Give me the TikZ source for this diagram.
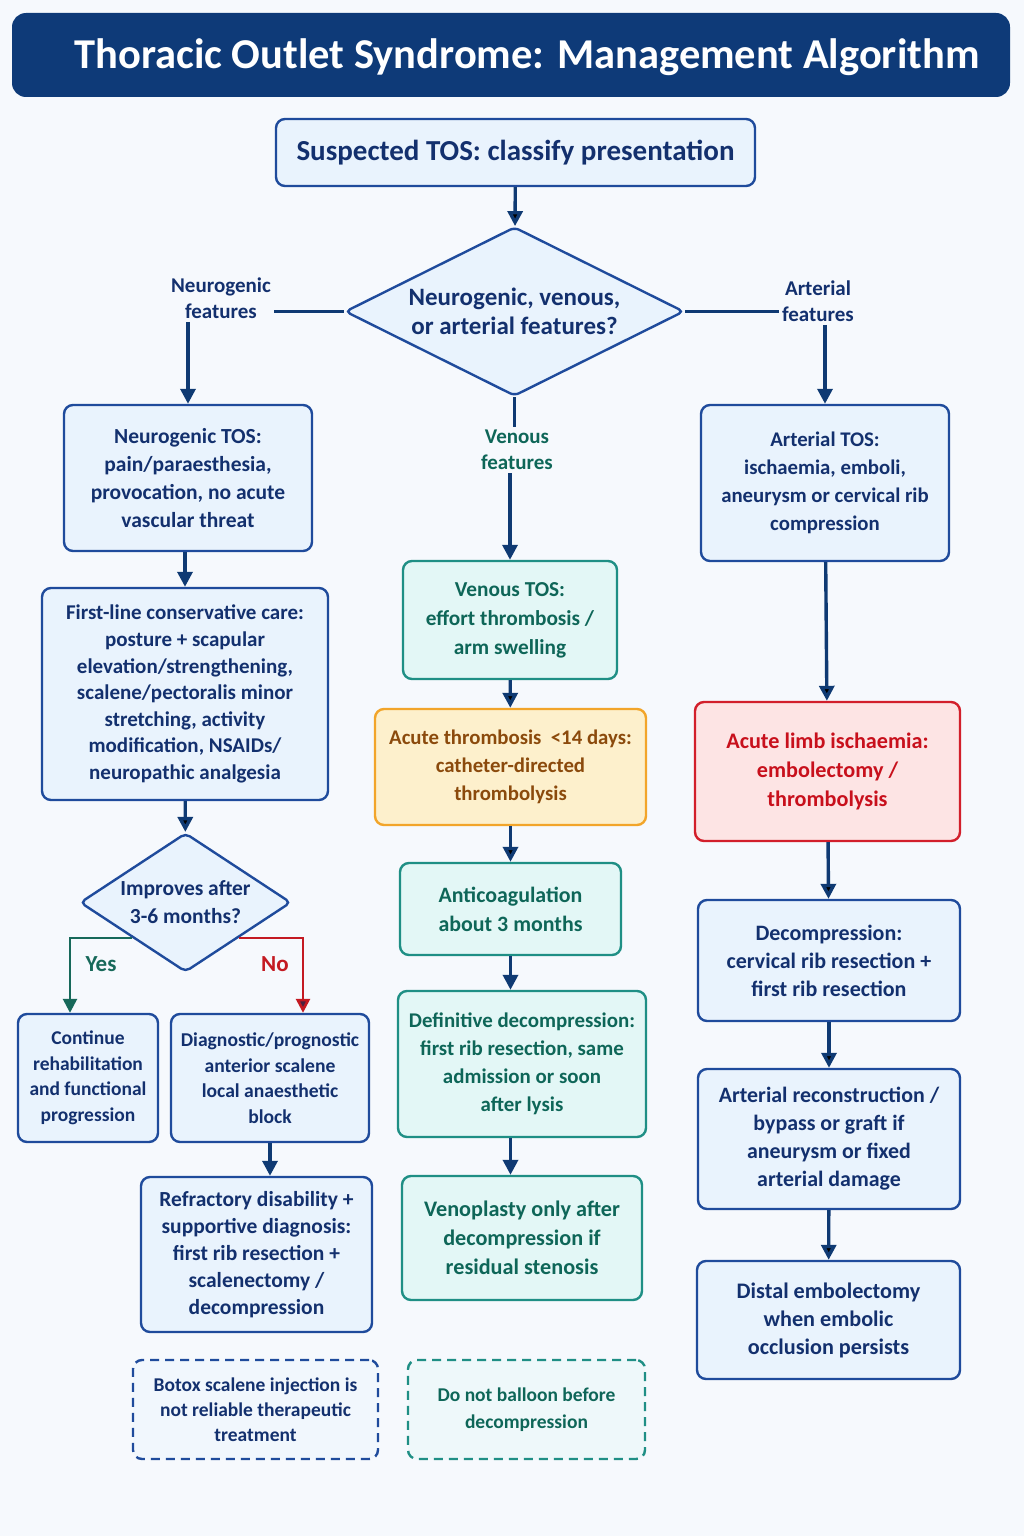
\documentclass[tikz,border=0pt]{standalone}
\usepackage{fontspec}
\setmainfont{Carlito}
\usetikzlibrary{positioning,arrows.meta,shapes.geometric}

\definecolor{bgcol}{HTML}{F6F9FD}
\definecolor{titlecol}{HTML}{0E3A78}
\definecolor{navyline}{HTML}{1F4B9C}
\definecolor{navytext}{HTML}{13306E}
\definecolor{boxblue}{HTML}{E9F3FD}
\definecolor{tealline}{HTML}{1F8F85}
\definecolor{tealfill}{HTML}{E3F7F6}
\definecolor{tealtext}{HTML}{0E6658}
\definecolor{orangeline}{HTML}{F2A52A}
\definecolor{orangefill}{HTML}{FDF0CC}
\definecolor{orangetext}{HTML}{8B4A0C}
\definecolor{redline}{HTML}{D21F2B}
\definecolor{redfill}{HTML}{FDE4E4}
\definecolor{redtext}{HTML}{C8101C}
\definecolor{arrowcol}{HTML}{0F3A73}
\definecolor{yescol}{HTML}{17695A}
\definecolor{nocol}{HTML}{C41A22}
\definecolor{notip}{HTML}{4B2340}

\newcommand\fs[2]{\fontsize{#1}{#2}\selectfont\bfseries}

\tikzset{
    >={Triangle[length=15pt,width=15pt]}, % bold arrow heads
    wh/.style 2 args={minimum width=#1pt, minimum height=#2pt}, % box size in px
    box/.style={draw=navyline, fill=boxblue, text=navytext, line width=2.4pt,
        rounded corners=9pt, align=center, inner sep=0pt, font=\fs{21.5}{28}},
    venbox/.style={box, draw=tealline, fill=tealfill, text=tealtext},
    lysisbox/.style={box, draw=orangeline, fill=orangefill, text=orangetext},
    alarmbox/.style={box, draw=redline, fill=redfill, text=redtext},
    notebox/.style={box, dashed, dash pattern=on 9pt off 6pt, fill=bgcol!60!boxblue, font=\fs{19.5}{25}},
    choice/.style={diamond, draw=navyline, fill=boxblue, text=navytext, line width=2.4pt,
        rounded corners=5pt, align=center, inner sep=-8pt, aspect=2},
    lbl/.style={align=center, text=navytext, font=\fs{21}{26}},
    conn/.style={draw=arrowcol, line width=3.4pt},
}

\begin{document}
\begin{tikzpicture}[x=1pt,y=-1pt]
  \useasboundingbox (0,0) rectangle (1024,1536);
  \fill[bgcol] (0,0) rectangle (1024,1536);

  % title bar
  \node[fill=titlecol, rounded corners=14pt, wh={998}{84}] (t_0) at (511,55) {};
  \node[text=white, font=\fs{42.5}{48}] (t_1) at (527,57) {Thoracic Outlet Syndrome: Management Algorithm};

  % entry and first split
  \node[box, wh={479}{67}, font=\fs{29}{32}] (s_0) at (515.5,152.5) {Suspected TOS: classify presentation};
  \node[choice, wh={339}{169}, font=\fs{25}{29}] (d_0) at (514.5,311.5) {Neurogenic, venous,\\or arterial features?};
  \node[lbl] (lN) at (221,298) {Neurogenic\\features};
  \node[lbl] (lA) at (818,301) {Arterial\\features};
  \node[lbl, text=tealtext] (lV) at (517,450) {Venous\\features};

  % neurogenic column
  \node[box, wh={248}{146}] (n_1) at (188,478) {Neurogenic TOS:\\pain/paraesthesia,\\provocation, no acute\\vascular threat};
  \node[box, wh={286}{212}, font=\fs{21}{26.6}] (n_2) at (185,694) {First-line conservative care:\\posture + scapular\\elevation/strengthening,\\scalene/pectoralis minor\\stretching, activity\\modification, NSAIDs/\\neuropathic analgesia};
  \node[choice, wh={211}{139}, font=\fs{21.5}{28}] (d_1) at (185.5,902.5) {Improves after\\3-6 months?};
  \node[box, wh={140}{128}, font=\fs{19.5}{25.5}] (n_3) at (88,1078) {Continue\\rehabilitation\\and functional\\progression};
  \node[box, wh={198}{128}, font=\fs{19.6}{25.5}] (n_4) at (270,1078) {Diagnostic/prognostic\\anterior scalene\\local anaesthetic\\block};
  \node[box, wh={231}{155}, font=\fs{21.5}{27}] (n_5) at (256.5,1254.5) {Refractory disability +\\supportive diagnosis:\\first rib resection +\\scalenectomy /\\decompression};
  \node[notebox, wh={245}{99}] (n_6) at (255.5,1409.5) {Botox scalene injection is\\not reliable therapeutic\\treatment};

  % venous column
  \node[venbox, wh={214}{118}, font=\fs{21.3}{29}] (v_1) at (510,620) {Venous TOS:\\effort thrombosis /\\arm swelling};
  \node[lysisbox, wh={271}{116}, font=\fs{20.8}{28}] (v_2) at (510.5,767) {Acute thrombosis\ \ <14 days:\\catheter-directed\\thrombolysis};
  \node[venbox, wh={221}{92}, font=\fs{21.9}{29}] (v_3) at (510.5,909) {Anticoagulation\\about 3 months};
  \node[venbox, wh={248}{146}, font=\fs{20.9}{28}] (v_4) at (522,1064) {Definitive decompression:\\first rib resection, same\\admission or soon\\after lysis};
  \node[venbox, wh={240}{124}, font=\fs{22.2}{29}] (v_5) at (522,1238) {Venoplasty only after\\decompression if\\residual stenosis};
  \node[notebox, draw=tealline, text=tealtext, fill=bgcol!60!tealfill, wh={237}{99}, font=\fs{19.5}{27}] (v_6) at (526.5,1409.5) {Do not balloon before\\decompression};

  % arterial column
  \node[box, wh={248}{156}, font=\fs{20.8}{28}] (a_1) at (825,483) {Arterial TOS:\\ischaemia, emboli,\\aneurysm or cervical rib\\compression};
  \node[alarmbox, wh={265}{139}, font=\fs{22.2}{29}] (a_2) at (827.5,771.5) {Acute limb ischaemia:\\embolectomy /\\thrombolysis};
  \node[box, wh={262}{121}, font=\fs{22}{28}] (a_3) at (829,960.5) {Decompression:\\cervical rib resection +\\first rib resection};
  \node[box, wh={262}{140}, font=\fs{21.9}{28}] (a_4) at (829,1139) {Arterial reconstruction /\\bypass or graft if\\aneurysm or fixed\\arterial damage};
  \node[box, wh={263}{118}, font=\fs{22.2}{28}] (a_5) at (828.5,1320) {Distal embolectomy\\when embolic\\occlusion persists};

  % straight node-to-node arrows
  \path[conn,->]
    (s_0) edge (d_0)
    (n_2) edge (d_1)
    (v_1) edge (v_2)
    (v_2) edge (v_3)
    (a_1) edge (a_2)
    (a_2) edge (a_3)
    (a_3) edge (a_4)
    (a_4) edge (a_5);

  % split lines through the labels
  \draw[conn] (d_0.west) -- (d_0.west -| lN.east);
  \draw[conn] (d_0.east) -- (d_0.east -| lA.west);
  \draw[conn] (d_0.south) -- (lV.north -| d_0.south);
  \draw[conn,->] (lN.south -| n_1.north) -- (n_1.north);
  \draw[conn,->] (lA.south -| a_1.north) -- (a_1.north);
  \draw[conn,->] (lV.south -| v_1.north) -- (v_1.north);

  % arrows between offset boxes
  \draw[conn,->] (n_2.north |- n_1.south) -- (n_2.north);
  \draw[conn,->] (n_4.south) -- (n_4.south |- n_5.north);
  \draw[conn,->] (v_3.south) -- (v_3.south |- v_4.north);
  \draw[conn,->] (v_4.south -| v_3.south) -- (v_5.north -| v_3.south);

  % yes / no branches
  \draw[line width=2.6pt, yescol, -{Triangle[length=14pt,width=14pt]}]
    (d_1.south west) -| ([xshift=-18pt]n_3.north);
  \draw[line width=2.6pt, nocol, -{Triangle[length=14pt,width=14pt,fill=notip]}]
    (d_1.south east) -| ([xshift=33pt]n_4.north);
  \node[lbl, text=yescol, font=\fs{23}{26}] (yes) at (101,964) {Yes};
  \node[lbl, text=nocol, font=\fs{23}{26}] (no) at (275,964) {No};
\end{tikzpicture}
\end{document}
